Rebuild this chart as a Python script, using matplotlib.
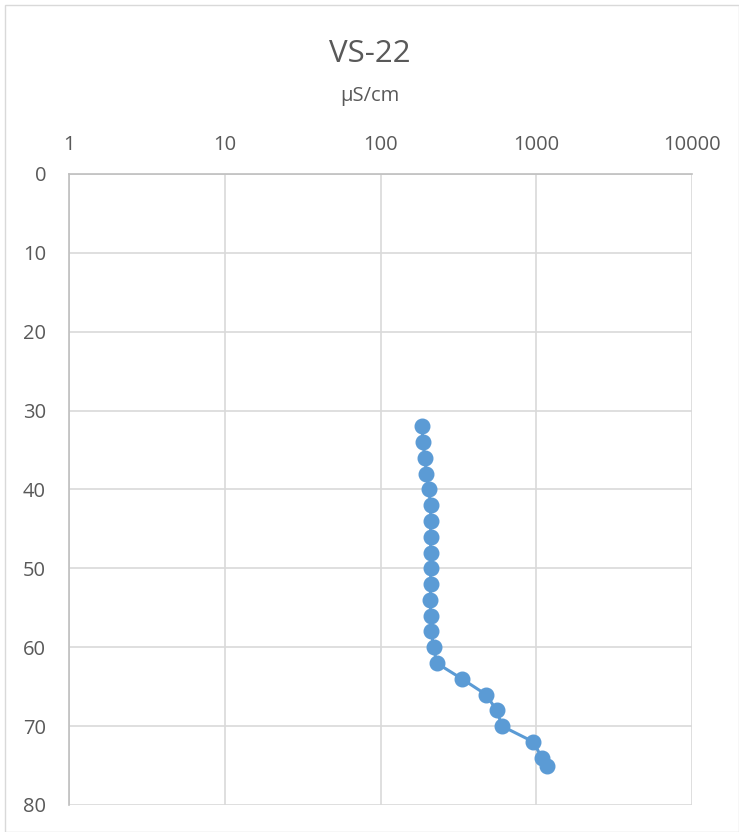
import matplotlib
matplotlib.use("Agg")
import matplotlib.pyplot as plt
from matplotlib.ticker import FixedLocator, FixedFormatter

plt.rcParams['font.family'] = ['Open Sans', 'DejaVu Sans']

depth = [32, 34, 36, 38, 40, 42, 44, 46, 48, 50, 52, 54, 56, 58, 60, 62, 64, 66, 68, 70, 72, 74, 75]
conductivity = [185, 187, 193, 197, 204, 210, 210, 210, 210, 210, 210, 209, 210, 211, 220, 229,
                333, 476, 557, 603, 959, 1084, 1170]
x_ticks = [1, 10, 100, 1000, 10000]
x_labels = ["1", "10", "100", "1000", "10000"]
y_ticks = [0, 10, 20, 30, 40, 50, 60, 70, 80]

fig = plt.figure(figsize=(7.39, 8.32), dpi=100)
ax = fig.add_axes([69/739, 1-805/832, (692-69)/739, (805-174)/832])

ax.plot(conductivity, depth, color='#5B9BD5', lw=2.2, marker='o', ms=10.5,
        markeredgecolor='#5B9BD5', markerfacecolor='#5B9BD5', zorder=3, clip_on=False)

ax.set_xscale('log')
ax.set_xlim(1, 10000)
ax.set_ylim(80, 0)
ax.xaxis.set_major_locator(FixedLocator(x_ticks))
ax.xaxis.set_major_formatter(FixedFormatter(x_labels))
ax.xaxis.set_minor_locator(FixedLocator([]))
ax.set_yticks(y_ticks)
ax.xaxis.tick_top()
ax.tick_params(axis='both', length=0, labelsize=14.5, labelcolor='#595959')
ax.tick_params(axis='x', pad=14)
ax.tick_params(axis='y', pad=16.5)
ax.grid(True, color='#d9d9d9', lw=1.2)
for s in ['right', 'bottom']:
    ax.spines[s].set_visible(False)
for s in ['left', 'top']:
    ax.spines[s].set_color('#bfbfbf')
    ax.spines[s].set_linewidth(1.2)

fig.text(0.5, 1-61.5/832, "VS-22", ha='center', va='baseline', fontsize=22.5, color='#595959')
fig.text(0.5, 1-101/832, "µS/cm", ha='center', va='baseline', fontsize=14.5, color='#595959')

border = plt.Rectangle((5/739, 0.0), 1 - 5/739 - 0.5/739, 1 - 5/832, transform=fig.transFigure,
                       fill=False, edgecolor='#d9d9d9', lw=1)
fig.patches.append(border)

fig.savefig("out.png", dpi=100)
